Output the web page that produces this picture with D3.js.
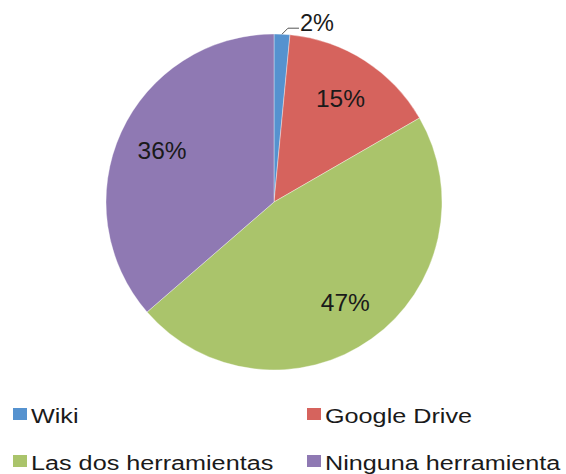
<!DOCTYPE html>
<html>
<head>
<meta charset="utf-8">
<script src="https://cdn.jsdelivr.net/npm/d3@7"></script>
<style>
html, body { margin: 0; padding: 0; background: #fff; }
svg { display: block; }
text { font-family: "Liberation Sans", Arial, sans-serif; }
</style>
</head>
<body>
<svg id="chart" width="566" height="474"></svg>
<script>
const categories = ["Wiki", "Google Drive", "Las dos herramientas", "Ninguna herramienta"];
const values = [1, 10, 31, 24];
const labels = ["2%", "15%", "47%", "36%"];
const colors = ["#5592CF", "#D6635D", "#AAC46B", "#8F79B3"];

const svg = d3.select("#chart");
const cx = 274, cy = 202, R = 168, labelR = 123;

const pie = d3.pie().sort(null).value(d => d.v).startAngle(0).endAngle(2 * Math.PI);
const data = categories.map((c, i) => ({ c, v: values[i], label: labels[i], color: colors[i] }));
const arcs = pie(data);

const arc = d3.arc().innerRadius(0).outerRadius(R);
const labelArc = d3.arc().innerRadius(labelR).outerRadius(labelR);

const g = svg.append("g").attr("transform", `translate(${cx},${cy})`);

g.selectAll("path.slice")
  .data(arcs)
  .join("path")
  .attr("class", "slice")
  .attr("d", arc)
  .attr("fill", d => d.data.color)
  .attr("stroke", "rgba(255,255,255,0.6)")
  .attr("stroke-width", 0.6);

// inside labels (all except the small Wiki slice)
g.selectAll("text.inlabel")
  .data(arcs.filter((d, i) => i > 0))
  .join("text")
  .attr("class", "inlabel")
  .attr("x", d => labelArc.centroid(d)[0])
  .attr("y", d => labelArc.centroid(d)[1])
  .attr("text-anchor", "middle")
  .attr("dominant-baseline", "central")
  .attr("font-size", 24.5)
  .attr("fill", "#1a1a1a")
  .text(d => d.data.label);

// outside label for Wiki with leader line
const w = arcs[0];
const mid = (w.startAngle + w.endAngle) / 2;
const edge = [Math.sin(mid) * R, -Math.cos(mid) * R];
const elbow = [edge[0] + 6, edge[1] - 6];
const end = [elbow[0] + 11, elbow[1]];
g.append("polyline")
  .attr("points", [edge, elbow, end].map(p => p.join(",")).join(" "))
  .attr("fill", "none")
  .attr("stroke", "#555")
  .attr("stroke-width", 1);
g.append("text")
  .attr("x", end[0] + 1)
  .attr("y", end[1] - 5)
  .attr("dominant-baseline", "central")
  .attr("font-size", 23.5)
  .attr("fill", "#1a1a1a")
  .text(w.data.label);

// legend
const legendPos = [
  { x: 13, y: 423 }, { x: 307, y: 423 },
  { x: 13, y: 470 }, { x: 307, y: 470 }
];
const lg = svg.append("g");
const items = lg.selectAll("g.item")
  .data(data)
  .join("g")
  .attr("class", "item")
  .attr("transform", (d, i) => `translate(${legendPos[i].x},${legendPos[i].y})`);
items.append("rect")
  .attr("x", 0).attr("y", -15)
  .attr("width", 14).attr("height", 12)
  .attr("fill", d => d.color);
items.append("text")
  .attr("transform", "translate(18,0) scale(1.2,1)")
  .attr("font-size", 21)
  .attr("fill", "#1a1a1a")
  .text(d => d.c);
</script>
</body>
</html>
